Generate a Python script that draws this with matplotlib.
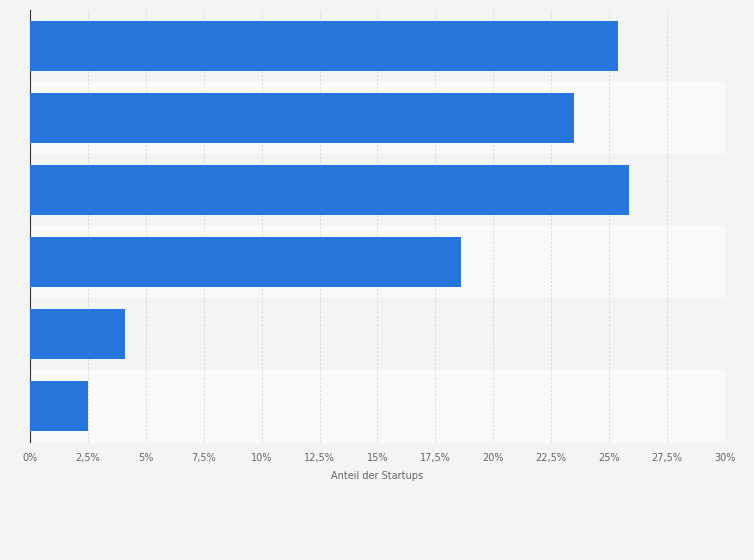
import matplotlib.pyplot as plt
import numpy as np

values = [25.4, 23.5, 25.85, 18.6, 4.1, 2.5]
ticks = [0, 2.5, 5, 7.5, 10, 12.5, 15, 17.5, 20, 22.5, 25, 27.5, 30]
tick_labels = ["0%", "2,5%", "5%", "7,5%", "10%", "12,5%", "15%", "17,5%",
               "20%", "22,5%", "25%", "27,5%", "30%"]

W, H = 754, 560
fig = plt.figure(figsize=(W / 100, H / 100), dpi=100, facecolor="#f4f4f4")
ax = fig.add_axes([30 / W, 1 - 442 / H, 695 / W, 432 / H])
ax.set_facecolor("#f4f4f4")

n = len(values)
y = np.arange(n)
for i in range(n):
    ax.axhspan(i - 0.5, i + 0.5, color="#f4f4f4" if i % 2 == 0 else "#fafafa", zorder=0)
# bands extend past plot on the right
ax.barh(y, values, height=0.7, color="#2776dd", zorder=3)

ax.set_xlim(0, 30)
ax.set_ylim(n - 0.5, -0.5)
ax.set_xticks(ticks)
ax.set_xticklabels(tick_labels, fontsize=7, color="#666666")
ax.set_yticks([])
ax.grid(axis="x", color="#d8d8d8", linestyle=(0, (2, 2)), linewidth=0.7, zorder=1)
for s in ["top", "right", "bottom"]:
    ax.spines[s].set_visible(False)
ax.spines["left"].set_color("#333333")
ax.tick_params(axis="x", length=0, pad=8)
ax.set_xlabel("Anteil der Startups", fontsize=7, color="#666666", labelpad=6)

fig.savefig("out.png", dpi=100, facecolor=fig.get_facecolor())
